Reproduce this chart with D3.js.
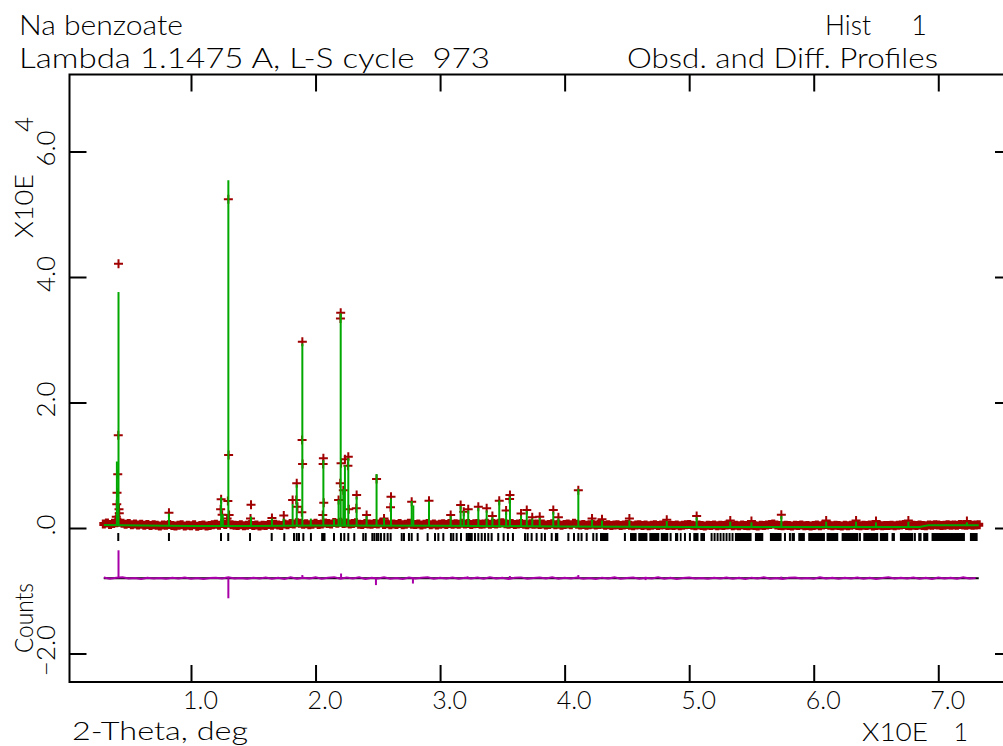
<!DOCTYPE html>
<html>
<head>
<meta charset="utf-8">
<script src="https://cdn.jsdelivr.net/npm/d3@7"></script>
<style>
  body { margin: 0; background: #fff; }
  svg { display: block; }
</style>
</head>
<body>
<svg id="chart" width="1003" height="746"></svg>
<script>
// PLOT DEFAULTS
const FRAME = { left: 69.5, right: 1012, top: 74.5, bottom: 682 };
const X_DOMAIN = [0.245, 75.92];        // 2-theta, deg
const Y_DOMAIN = [-24540, 72270];       // counts
const TICK_LEN = 17;
const FONT = 'Lato, "Liberation Sans", Arial, sans-serif';
const FONT_WEIGHT = 300;
const RED = '#a00000';
const GREEN = '#00a800';
const MAGENTA = '#a800a8';

// DATA //
// axis ticks
const xTickValues = [10, 20, 30, 40, 50, 60, 70];
const yTickValues = [-20000, 0, 20000, 40000, 60000];

// observed background, measured on a 0.25 deg grid from 3.00 deg
const OBS_START = 3.0;
const OBS_STEP = 0.25;
const obsCounts = [
  620, 780, 540, 700, 820, 900, 760, 610, 700, 520, 640, 470, 590, 420, 560, 380, 520, 450, 330, 480,
  420, 560, 380, 300, 450, 520, 310, 430, 360, 500, 280, 410, 470, 330, 390, 520, 610, 450, 700, 540,
  760, 520, 430, 380, 500, 350, 420, 560, 390, 470, 320, 450, 380, 560, 430, 610, 470, 380, 620, 500,
  700, 640, 820, 760, 580, 690, 520, 610, 750, 560, 640, 800, 720, 650, 880, 760, 900, 720, 810, 640,
  700, 820, 610, 550, 720, 640, 580, 700, 620, 790, 560, 680, 500, 640, 570, 700, 520, 610, 760, 590,
  540, 650, 480, 600, 700, 530, 620, 460, 580, 690, 540, 720, 600, 660, 580, 740, 620, 700, 560, 680,
  720, 600, 650, 760, 580, 700, 640, 760, 820, 690, 610, 700, 560, 640, 720, 600, 530, 660, 580, 640,
  540, 620, 480, 560, 660, 500, 580, 450, 560, 620, 520, 760, 580, 470, 560, 420, 530, 600, 460, 540,
  580, 420, 500, 380, 460, 520, 400, 480, 560, 430, 360, 470, 530, 410, 480, 350, 440, 520, 400, 460,
  520, 380, 450, 400, 480, 340, 430, 500, 560, 420, 350, 470, 400, 330, 450, 390, 480, 340, 420, 380,
  460, 500, 370, 430, 340, 470, 400, 360, 440, 380, 320, 450, 400, 480, 560, 620, 470, 400, 350, 430,
  380, 330, 440, 390, 470, 350, 410, 330, 400, 460, 370, 480, 560, 420, 360, 440, 390, 330, 420, 370,
  440, 520, 400, 350, 420, 380, 470, 330, 400, 440, 360, 410, 380, 450, 350, 420, 490, 540, 400, 360,
  430, 380, 460, 410, 350, 480, 430, 520, 470, 410, 450, 500, 430, 470, 420, 550, 480, 430, 500, 440,
  460, 520
];

// observed points on the peaks [2-theta, counts]
const obsPeakPoints = [
  [4.18, 42100], [4.16, 14770], [4.12, 8560], [4.06, 5630], [4.04, 3780], [4.22, 2980], [4.24, 2340], [4.0, 1800], [3.95, 1300],
  [8.23, 2440],
  [12.42, 4570], [12.38, 2980], [12.5, 2100],
  [13.0, 52400], [13.02, 11630], [12.96, 4300], [13.06, 2070], [12.9, 1500],
  [14.82, 3700], [14.78, 1500], [16.5, 1600], [17.45, 2000],
  [18.16, 4460], [18.49, 7120], [18.45, 4460], [18.55, 3400],
  [18.94, 29700], [18.92, 14020], [18.96, 10200], [18.9, 2500],
  [20.63, 11100], [20.61, 10200], [20.66, 4030], [20.58, 2070],
  [21.85, 4460], [22.02, 34300], [22.0, 33400], [22.05, 10300], [21.98, 7120],
  [22.23, 6000], [22.36, 10950], [22.63, 11360], [22.6, 9930], [22.67, 3000],
  [23.3, 5260], [23.27, 3140], [24.1, 2070], [24.9, 7810], [25.5, 1500],
  [26.06, 4990], [26.02, 3300], [27.72, 4190], [29.11, 4350], [30.85, 2070],
  [31.65, 3670], [31.9, 2600], [32.26, 2980], [33.07, 3400], [33.74, 3140],
  [34.2, 1900], [34.75, 4350], [35.3, 2800], [35.61, 5260], [35.58, 4620],
  [36.5, 2300], [36.96, 2870], [37.4, 1700], [38.0, 1800], [39.09, 2870], [39.5, 1700],
  [41.1, 6000], [42.2, 1500], [43.0, 1400], [45.2, 1500], [48.2, 1300], [50.6, 1900],
  [53.3, 1200], [55.0, 1100], [57.4, 2100], [61.0, 1200], [63.4, 1200], [65.0, 1100],
  [67.6, 1200], [72.3, 1100]
];

// calculated profile: background knots and peak maxima [2-theta, counts]
const calcBackground = [
  [3.0, 480], [6.0, 380], [10.0, 320], [15.0, 330], [20.0, 380], [30.0, 360], [40.0, 250],
  [50.0, 180], [60.0, 150], [68.5, 160], [69.2, 450], [73.25, 430]
];
const calcPeaks = [
  [4.05, 10600], [4.18, 37600], [8.23, 2300], [12.42, 4900], [12.55, 2200], [13.0, 55400],
  [14.82, 1800], [16.5, 1500], [17.45, 1500], [18.16, 3800], [18.49, 6900], [18.94, 29400],
  [19.62, 1500], [20.63, 10800], [21.48, 1400], [21.85, 4500], [22.02, 34200], [22.23, 6200],
  [22.36, 10000], [22.63, 11100], [23.3, 5000], [24.1, 1900], [24.9, 8600], [25.5, 1600],
  [26.06, 4700], [27.72, 4300], [27.85, 3600], [29.11, 4250], [30.85, 1900], [31.65, 3500],
  [31.9, 2700], [32.26, 2800], [33.07, 3200], [33.74, 2800], [34.2, 1700], [34.75, 4400],
  [35.3, 2600], [35.61, 5000], [36.5, 2000], [36.96, 2700], [37.4, 1500], [38.0, 1600],
  [39.09, 2600], [39.5, 1500], [41.1, 6200], [42.2, 1300], [43.0, 1200], [45.2, 1200],
  [48.2, 1100], [50.6, 1700], [53.3, 1000], [55.0, 900], [57.4, 1900], [61.0, 1000],
  [63.4, 1000], [65.0, 900], [67.6, 1000], [72.3, 900]
];

// difference curve (obs - calc), on a 0.5 deg grid from 3.0 deg, plus sharp spikes
const DIFF_OFFSET = -8000;
const DIFF_START = 3.0;
const DIFF_STEP = 0.5;
const diffCounts = [
  120, -80, 60, 150, -60, 40, -120, 80, -40, 30, -90, 60, -30, 100, -70, 20, -110, 50, 90, -50,
  140, -60, 30, -90, 70, -40, 110, -80, 60, -120, 150, -70, 90, -30, 130, -100, 60, 170, -90, 120,
  -60, 140, -110, 80, -40, 160, -90, 50, -130, 110, -50, 90, 140, -80, 60, -40, 120, -100, 70, -60,
  100, -90, 150, -50, 80, -120, 60, 130, -70, 40, 100, -60, 150, -90, 70, -40, 120, -80, 50, -110,
  90, -50, 130, -70, 40, 110, -90, 60, -30, 140, -80, 70, -120, 50, 100, -60, 30, -100, 80, -40,
  120, -70, 60, -110, 90, -40, 150, -80, 50, -120, 70, 110, -60, 40, -90, 130, -50, 80, -100, 60,
  -40, 120, -80, 70, -110, 50, 140, -60, 90, -30, 110, -90, 60, -130, 100, -50, 80, -70, 130, -60,
  40
];
const diffSpikes = [
  [4.18, 4450], [13.0, -3200], [18.94, 500], [22.05, 750], [24.85, -1100], [27.82, -850],
  [32.2, 300], [35.6, 350], [41.1, 500], [46.5, -300], [57.4, 250]
];

// reflection positions (single ticks) and clusters too dense to separate
const reflTicks = [
  4.16, 8.23, 12.41, 12.99, 14.74, 16.48, 17.49, 18.27, 18.49, 18.67, 19.02, 19.63,
  21.48, 22.04, 22.31, 22.63, 23.11, 23.83, 24.03, 24.56, 24.72, 24.91, 25.04, 25.25,
  25.52, 25.79, 26.03, 26.92, 27.1, 27.5, 27.72, 28.2, 29.0, 29.59, 29.86, 30.26,
  30.87, 31.06, 31.33, 31.68, 32.14, 32.26, 32.4, 32.54, 32.8, 33.07, 33.34, 33.6,
  33.87, 34.14, 34.67, 35.1, 35.45, 35.85, 36.82, 37.03, 37.35, 37.75, 38.15, 38.42,
  38.96, 40.3, 40.75, 41.1, 41.36, 41.77, 42.3, 42.57, 44.84, 48.51, 49.66, 50.06,
  51.8, 52.04, 52.28, 52.52, 52.76, 53.0, 53.24, 53.48, 57.69, 58.09, 63.71, 68.12
];
const reflBands = [
  [20.45, 20.8], [39.22, 39.49], [42.84, 43.51], [45.25, 45.78], [45.91, 46.65], [46.8, 47.6],
  [47.72, 48.32], [48.86, 49.12], [49.25, 49.39], [50.33, 50.75], [50.9, 51.27], [53.67, 55.01],
  [55.28, 55.95], [56.48, 57.42], [58.22, 58.49], [58.76, 59.29], [59.56, 60.9], [61.03, 61.97],
  [62.24, 63.58], [63.98, 65.18], [65.31, 65.98], [66.25, 66.52], [66.92, 67.99], [68.39, 68.66],
  [68.79, 69.2], [69.46, 72.14], [72.54, 73.16]
];
const REFL_TOP = -800;
const REFL_BOTTOM = -2070;
const CALC_FLOOR = 300;

// BUILD THE CHART //
const svg = d3.select('#chart');

const xScale = d3.scaleLinear().domain(X_DOMAIN).range([FRAME.left, FRAME.right]);
const yScale = d3.scaleLinear().domain(Y_DOMAIN).range([FRAME.bottom, FRAME.top]);

const plot = svg.append('g');

// observed points drawn as + markers; the dense background ones merge into a band
const obsBg = obsCounts.map((c, i) => [OBS_START + i * OBS_STEP, c]);
const plus = 'M-4.5,0H4.5M0,-4.5V4.5';

plot.append('g')
  .selectAll('path')
  .data(obsBg)
  .join('path')
  .attr('d', plus)
  .attr('transform', d => `translate(${xScale(d[0])},${yScale(d[1])})`)
  .attr('fill', 'none')
  .attr('stroke', RED)
  .attr('stroke-width', 4);

plot.append('g')
  .selectAll('path')
  .data(obsPeakPoints)
  .join('path')
  .attr('d', plus)
  .attr('transform', d => `translate(${xScale(d[0])},${yScale(d[1])})`)
  .attr('fill', 'none')
  .attr('stroke', RED)
  .attr('stroke-width', 2);

// calculated profile: background line plus peak stems
const line = d3.line().x(d => xScale(d[0])).y(d => yScale(d[1]));

plot.append('path')
  .datum(calcBackground)
  .attr('d', line)
  .attr('fill', 'none')
  .attr('stroke', GREEN)
  .attr('stroke-width', 2);

plot.append('g')
  .selectAll('line')
  .data(calcPeaks)
  .join('line')
  .attr('x1', d => xScale(d[0]))
  .attr('x2', d => xScale(d[0]))
  .attr('y1', yScale(CALC_FLOOR))
  .attr('y2', d => yScale(d[1]))
  .attr('stroke', GREEN)
  .attr('stroke-width', 2);

// reflection tick marks
const refl = plot.append('g');
refl.selectAll('line')
  .data(reflTicks)
  .join('line')
  .attr('x1', d => xScale(d))
  .attr('x2', d => xScale(d))
  .attr('y1', yScale(REFL_TOP))
  .attr('y2', yScale(REFL_BOTTOM))
  .attr('stroke', '#000')
  .attr('stroke-width', 2);

refl.selectAll('rect')
  .data(reflBands)
  .join('rect')
  .attr('x', d => xScale(d[0]))
  .attr('width', d => xScale(d[1]) - xScale(d[0]))
  .attr('y', yScale(REFL_TOP))
  .attr('height', yScale(REFL_BOTTOM) - yScale(REFL_TOP))
  .attr('fill', '#000');

// difference curve
const diffPts = diffCounts.map((c, i) => [DIFF_START + i * DIFF_STEP, DIFF_OFFSET + c]);

plot.append('line')
  .attr('x1', xScale(OBS_START))
  .attr('x2', xScale(OBS_START + (obsCounts.length - 1) * OBS_STEP))
  .attr('y1', yScale(DIFF_OFFSET))
  .attr('y2', yScale(DIFF_OFFSET))
  .attr('stroke', '#000')
  .attr('stroke-width', 2);

plot.append('path')
  .datum(diffPts)
  .attr('d', line)
  .attr('fill', 'none')
  .attr('stroke', MAGENTA)
  .attr('stroke-width', 2);

plot.append('g')
  .selectAll('line')
  .data(diffSpikes)
  .join('line')
  .attr('x1', d => xScale(d[0]))
  .attr('x2', d => xScale(d[0]))
  .attr('y1', yScale(DIFF_OFFSET))
  .attr('y2', d => yScale(DIFF_OFFSET + d[1]))
  .attr('stroke', MAGENTA)
  .attr('stroke-width', 2);

// frame and axes (ticks point inwards on every side)
svg.append('rect')
  .attr('x', FRAME.left)
  .attr('y', FRAME.top)
  .attr('width', FRAME.right - FRAME.left)
  .attr('height', FRAME.bottom - FRAME.top)
  .attr('fill', 'none')
  .attr('stroke', '#000')
  .attr('stroke-width', 2);

function styleAxis (g) {
  g.select('.domain').remove();
  g.selectAll('.tick line').attr('stroke', '#000').attr('stroke-width', 2);
  g.attr('font-family', FONT).attr('font-size', 25).attr('font-weight', FONT_WEIGHT);
  g.selectAll('.tick text').attr('fill', '#000');
}

svg.append('g')
  .attr('transform', `translate(0,${FRAME.bottom})`)
  .call(d3.axisBottom(xScale).tickValues(xTickValues).tickSizeInner(-TICK_LEN)
    .tickSizeOuter(0).tickPadding(9).tickFormat(d => (d / 10).toFixed(1)))
  .call(styleAxis)
  .call(g => g.selectAll('.tick text').attr('dx', 9));

svg.append('g')
  .attr('transform', `translate(0,${FRAME.top})`)
  .call(d3.axisTop(xScale).tickValues(xTickValues).tickSizeInner(-TICK_LEN)
    .tickSizeOuter(0).tickFormat(''))
  .call(styleAxis);

svg.append('g')
  .attr('transform', `translate(${FRAME.left},0)`)
  .call(d3.axisLeft(yScale).tickValues(yTickValues).tickSizeInner(-TICK_LEN)
    .tickSizeOuter(0).tickFormat(''))
  .call(styleAxis);

svg.append('g')
  .attr('transform', `translate(${FRAME.right},0)`)
  .call(d3.axisRight(yScale).tickValues(yTickValues).tickSizeInner(-TICK_LEN)
    .tickSizeOuter(0).tickFormat(''))
  .call(styleAxis);

// rotated y tick labels
const yFmt = d => d === 0 ? '.0' : (d < 0 ? '\u2212' : '') + Math.abs(d / 10000).toFixed(1);
svg.append('g')
  .selectAll('text')
  .data(yTickValues)
  .join('text')
  .attr('transform', d => `translate(55,${yScale(d) - 3}) rotate(-90)`)
  .attr('text-anchor', 'middle')
  .attr('font-family', FONT)
  .attr('font-weight', FONT_WEIGHT)
  .attr('font-size', 26)
  .text(yFmt);

// titles and axis captions
function label (txt, x, y, opts = {}) {
  const t = svg.append('text')
    .attr('font-family', FONT)
    .attr('font-weight', FONT_WEIGHT)
    .attr('font-size', opts.size || 27)
    .attr('text-anchor', opts.anchor || 'start')
    .style('white-space', 'pre')
    .text(txt);
  if (opts.rotate) t.attr('transform', `translate(${x},${y}) rotate(-90)`);
  else t.attr('x', x).attr('y', y);
  if (opts.len) t.attr('textLength', opts.len).attr('lengthAdjust', 'spacingAndGlyphs');
  return t;
}

label('Na benzoate', 19, 35, { len: 164 });
label('Lambda 1.1475 A, L-S cycle  973', 19, 68, { len: 471 });
label('Hist', 825, 35, { len: 46 });
label('1', 927, 35, { anchor: 'end' });
label('Obsd. and Diff. Profiles', 627, 68, { len: 311 });

label('2-Theta, deg', 72, 740, { size: 25, len: 176 });
label('X10E', 862, 741, { size: 25, len: 66 });
label('1', 968, 741, { size: 25, anchor: 'end' });

label('X10E', 33, 238, { size: 26, len: 64, rotate: true });
label('4', 33, 117, { size: 26, anchor: 'end', rotate: true });
label('Counts', 33, 653, { size: 26, len: 70, rotate: true });
</script>
</body>
</html>
